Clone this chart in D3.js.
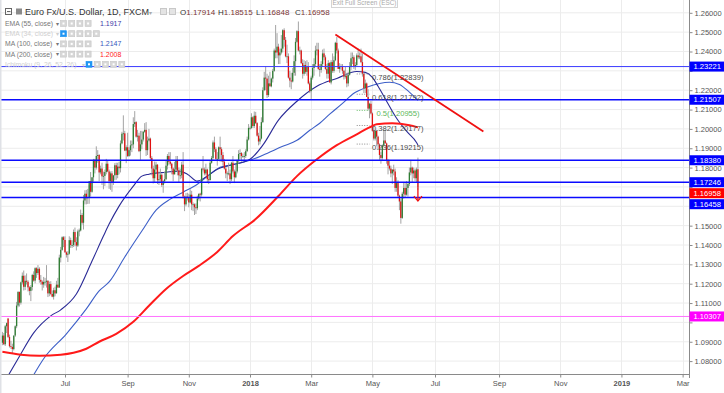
<!DOCTYPE html>
<html><head><meta charset="utf-8">
<script src="https://cdn.jsdelivr.net/npm/d3@7"></script>
<style>
html,body{margin:0;padding:0;background:#fff;}
svg{display:block;font-family:"Liberation Sans",Arial,sans-serif;}
</style></head><body>
<svg id="chart" width="724" height="393"></svg>
<script>
// ---------------- DATA ----------------
const startDate = "2017-05-02"; // first daily bar (weekdays follow)
const ohlcMay2017 = [
[1.0895,1.0951,1.0882,1.0932],[1.0932,1.0945,1.0883,1.0887],[1.0887,1.0987,1.0878,1.0980],[1.0980,1.0999,1.0945,1.0996],
[1.1020,1.1023,1.0919,1.0925],[1.0925,1.0937,1.0870,1.0877],[1.0877,1.0905,1.0863,1.0873],[1.0873,1.0890,1.0838,1.0862],[1.0862,1.0932,1.0855,1.0932],
[1.0932,1.0985,1.0925,1.0980],[1.0980,1.1106,1.0970,1.1087],[1.1087,1.1162,1.1078,1.1157],[1.1157,1.1160,1.1082,1.1102],[1.1102,1.1211,1.1092,1.1207],
[1.1207,1.1258,1.1196,1.1241],[1.1241,1.1268,1.1165,1.1184],[1.1184,1.1243,1.1167,1.1215],[1.1215,1.1253,1.1196,1.1210],[1.1210,1.1218,1.1160,1.1181],
[1.1181,1.1187,1.1140,1.1163],[1.1163,1.1193,1.1110,1.1183],[1.1183,1.1251,1.1165,1.1245]];
const ohlcJun2017 = [
[1.1245,1.1264,1.1210,1.1216],[1.1216,1.1285,1.1202,1.1280],
[1.1280,1.1285,1.1230,1.1255],[1.1255,1.1296,1.1245,1.1277],[1.1277,1.1285,1.1205,1.1220],[1.1220,1.1245,1.1195,1.1210],[1.1210,1.1217,1.1165,1.1196],
[1.1196,1.1235,1.1179,1.1209],[1.1209,1.1230,1.1190,1.1210],[1.1210,1.1296,1.1180,1.1215],[1.1215,1.1218,1.1131,1.1150],[1.1150,1.1211,1.1135,1.1198],
[1.1198,1.1213,1.1140,1.1147],[1.1147,1.1165,1.1130,1.1133],[1.1133,1.1179,1.1118,1.1166],[1.1166,1.1185,1.1135,1.1150],[1.1150,1.1215,1.1150,1.1195],
[1.1195,1.1230,1.1180,1.1180],[1.1180,1.1350,1.1180,1.1335],[1.1335,1.1390,1.1310,1.1375],[1.1375,1.1445,1.1370,1.1440],[1.1440,1.1446,1.1389,1.1426]];
const ohlcJul2017 = [
[1.1426,1.1445,1.1360,1.1362],[1.1362,1.1367,1.1335,1.1350],[1.1350,1.1368,1.1312,1.1355],[1.1355,1.1445,1.1350,1.1425],[1.1425,1.1438,1.1385,1.1400],
[1.1400,1.1425,1.1385,1.1400],[1.1400,1.1480,1.1390,1.1467],[1.1467,1.1490,1.1393,1.1415],[1.1415,1.1440,1.1372,1.1397],[1.1397,1.1480,1.1390,1.1470],
[1.1470,1.1485,1.1445,1.1475],[1.1475,1.1583,1.1470,1.1555],[1.1555,1.1565,1.1505,1.1515],[1.1515,1.1658,1.1480,1.1630],[1.1630,1.1683,1.1610,1.1665],
[1.1665,1.1685,1.1610,1.1642],[1.1642,1.1690,1.1612,1.1647],[1.1647,1.1712,1.1613,1.1730],[1.1730,1.1777,1.1650,1.1675],[1.1675,1.1750,1.1670,1.1750],
[1.1750,1.1845,1.1727,1.1840]];
const ohlcAug2017 = [
[1.1840,1.1845,1.1770,1.1800],[1.1800,1.1910,1.1790,1.1860],[1.1860,1.1890,1.1825,1.1865],[1.1865,1.1870,1.1730,1.1775],
[1.1775,1.1810,1.1765,1.1795],[1.1795,1.1825,1.1710,1.1755],[1.1755,1.1779,1.1688,1.1757],[1.1757,1.1790,1.1705,1.1777],[1.1777,1.1845,1.1765,1.1820],
[1.1820,1.1835,1.1776,1.1780],[1.1780,1.1790,1.1690,1.1730],[1.1730,1.1780,1.1685,1.1770],[1.1770,1.1782,1.1675,1.1725],[1.1725,1.1760,1.1710,1.1760],
[1.1760,1.1823,1.1735,1.1812],[1.1812,1.1825,1.1737,1.1762],[1.1762,1.1825,1.1745,1.1805],[1.1805,1.1830,1.1765,1.1797],[1.1797,1.1940,1.1775,1.1925],
[1.1925,1.1985,1.1920,1.1975],[1.1975,1.2070,1.1940,1.1977],[1.1977,1.1990,1.1885,1.1888],[1.1888,1.1915,1.1823,1.1905]];
const ohlcSep2017 = [
[1.1905,1.1980,1.1855,1.1860],
[1.1860,1.1905,1.1855,1.1890],[1.1890,1.1940,1.1862,1.1915],[1.1915,1.1940,1.1880,1.1920],[1.1920,1.2060,1.1900,1.2025],[1.2025,1.2092,1.2010,1.2035],
[1.2035,1.2040,1.1955,1.1960],[1.1960,1.1995,1.1935,1.1965],[1.1965,1.1980,1.1880,1.1885],[1.1885,1.1990,1.1840,1.1920],[1.1920,1.1990,1.1895,1.1945],
[1.1945,1.1990,1.1935,1.1985],[1.1985,1.2030,1.1980,1.1995],[1.1995,1.2035,1.1860,1.1890],[1.1890,1.1960,1.1865,1.1940],[1.1940,1.2000,1.1935,1.1950],
[1.1950,1.1955,1.1838,1.1850],[1.1850,1.1860,1.1760,1.1795],[1.1795,1.1810,1.1718,1.1745],[1.1745,1.1831,1.1722,1.1790],[1.1790,1.1830,1.1775,1.1815]];
const ohlcOct2017 = [
[1.1815,1.1818,1.1715,1.1735],[1.1735,1.1780,1.1710,1.1740],[1.1740,1.1795,1.1725,1.1763],[1.1763,1.1770,1.1700,1.1710],[1.1710,1.1735,1.1670,1.1730],
[1.1730,1.1780,1.1718,1.1740],[1.1740,1.1835,1.1735,1.1810],[1.1810,1.1870,1.1790,1.1860],[1.1860,1.1880,1.1815,1.1830],[1.1830,1.1880,1.1810,1.1820],
[1.1820,1.1825,1.1765,1.1795],[1.1795,1.1800,1.1730,1.1765],[1.1765,1.1830,1.1765,1.1790],[1.1790,1.1860,1.1780,1.1835],[1.1835,1.1860,1.1760,1.1785],
[1.1785,1.1800,1.1725,1.1760],[1.1760,1.1795,1.1740,1.1760],[1.1760,1.1830,1.1745,1.1815],[1.1815,1.1880,1.1640,1.1650],[1.1650,1.1655,1.1575,1.1610],
[1.1610,1.1668,1.1600,1.1650],[1.1650,1.1670,1.1630,1.1645]];
const ohlcNov2017 = [
[1.1645,1.1665,1.1595,1.1620],[1.1620,1.1688,1.1615,1.1660],[1.1660,1.1680,1.1580,1.1610],
[1.1610,1.1620,1.1575,1.1610],[1.1610,1.1615,1.1555,1.1595],[1.1595,1.1615,1.1560,1.1590],[1.1590,1.1655,1.1580,1.1640],[1.1640,1.1665,1.1630,1.1665],
[1.1665,1.1670,1.1625,1.1660],[1.1660,1.1795,1.1650,1.1795],[1.1795,1.1860,1.1780,1.1790],[1.1790,1.1800,1.1760,1.1770],[1.1770,1.1820,1.1760,1.1790],
[1.1790,1.1795,1.1720,1.1740],[1.1740,1.1760,1.1715,1.1735],[1.1735,1.1835,1.1735,1.1825],[1.1825,1.1860,1.1820,1.1850],[1.1850,1.1940,1.1840,1.1930],
[1.1930,1.1960,1.1880,1.1895],[1.1895,1.1905,1.1840,1.1845],[1.1845,1.1880,1.1810,1.1845],[1.1845,1.1910,1.1835,1.1905]];
const ohlcDec2017 = [
[1.1905,1.1960,1.1830,1.1895],
[1.1895,1.1905,1.1830,1.1865],[1.1865,1.1880,1.1810,1.1830],[1.1830,1.1845,1.1790,1.1795],[1.1795,1.1805,1.1745,1.1770],[1.1770,1.1780,1.1730,1.1770],
[1.1770,1.1825,1.1760,1.1770],[1.1770,1.1790,1.1715,1.1740],[1.1740,1.1830,1.1730,1.1825],[1.1825,1.1860,1.1770,1.1780],[1.1780,1.1790,1.1720,1.1750],
[1.1750,1.1815,1.1745,1.1780],[1.1780,1.1840,1.1770,1.1840],[1.1840,1.1890,1.1820,1.1870],[1.1870,1.1895,1.1845,1.1875],[1.1875,1.1880,1.1830,1.1860],
[1.1860,1.1872,1.1850,1.1860],[1.1860,1.1880,1.1840,1.1860],[1.1860,1.1895,1.1850,1.1885],[1.1885,1.1960,1.1880,1.1945],[1.1945,1.2025,1.1940,1.2005]];
const ohlcJan2018 = [
[1.2005,1.2012,1.1995,1.2005],[1.2005,1.2081,1.2000,1.2060],[1.2060,1.2065,1.2005,1.2015],[1.2015,1.2090,1.2005,1.2068],[1.2068,1.2088,1.2025,1.2030],
[1.2030,1.2035,1.1960,1.1965],[1.1965,1.1980,1.1915,1.1935],[1.1935,1.2015,1.1920,1.1950],[1.1950,1.2060,1.1945,1.2035],[1.2035,1.2215,1.2030,1.2200],
[1.2200,1.2295,1.2195,1.2265],[1.2265,1.2325,1.2200,1.2260],[1.2260,1.2285,1.2160,1.2175],[1.2175,1.2275,1.2165,1.2235],[1.2235,1.2295,1.2220,1.2220],
[1.2220,1.2265,1.2215,1.2260],[1.2260,1.2310,1.2240,1.2300],[1.2300,1.2415,1.2295,1.2405],[1.2405,1.2537,1.2365,1.2395],[1.2395,1.2495,1.2365,1.2425],
[1.2425,1.2440,1.2335,1.2380],[1.2380,1.2415,1.2335,1.2395],[1.2395,1.2485,1.2385,1.2415]];
const ohlcFeb2018 = [
[1.2415,1.2515,1.2395,1.2510],[1.2510,1.2520,1.2425,1.2460],
[1.2460,1.2475,1.2370,1.2375],[1.2375,1.2435,1.2340,1.2375],[1.2375,1.2390,1.2260,1.2265],[1.2265,1.2300,1.2215,1.2250],[1.2250,1.2290,1.2205,1.2245],
[1.2245,1.2315,1.2240,1.2290],[1.2290,1.2380,1.2275,1.2350],[1.2350,1.2470,1.2275,1.2450],[1.2450,1.2510,1.2445,1.2505],[1.2505,1.2555,1.2400,1.2405],
[1.2405,1.2425,1.2385,1.2405],[1.2405,1.2410,1.2335,1.2340],[1.2340,1.2360,1.2260,1.2285],[1.2285,1.2355,1.2275,1.2330],[1.2330,1.2350,1.2285,1.2295],
[1.2295,1.2355,1.2275,1.2320],[1.2320,1.2345,1.2230,1.2235],[1.2235,1.2245,1.2185,1.2195]];
const ohlcMar2018 = [
[1.2195,1.2275,1.2155,1.2265],[1.2265,1.2335,1.2255,1.2315],
[1.2315,1.2365,1.2275,1.2335],[1.2335,1.2430,1.2325,1.2405],[1.2405,1.2445,1.2380,1.2410],[1.2410,1.2445,1.2305,1.2310],[1.2310,1.2335,1.2270,1.2305],
[1.2305,1.2350,1.2290,1.2335],[1.2335,1.2410,1.2320,1.2390],[1.2390,1.2415,1.2355,1.2370],[1.2370,1.2380,1.2305,1.2310],[1.2310,1.2335,1.2260,1.2285],
[1.2285,1.2355,1.2260,1.2340],[1.2340,1.2345,1.2240,1.2240],[1.2240,1.2355,1.2230,1.2345],[1.2345,1.2390,1.2290,1.2300],[1.2300,1.2375,1.2290,1.2355],
[1.2355,1.2450,1.2350,1.2445],[1.2445,1.2475,1.2390,1.2405],[1.2405,1.2415,1.2310,1.2310],[1.2310,1.2340,1.2290,1.2320],[1.2320,1.2335,1.2305,1.2325]];
const ohlcApr2018 = [
[1.2325,1.2335,1.2285,1.2300],[1.2300,1.2305,1.2255,1.2270],[1.2270,1.2320,1.2260,1.2275],[1.2275,1.2290,1.2215,1.2235],[1.2235,1.2295,1.2220,1.2280],
[1.2280,1.2345,1.2275,1.2320],[1.2320,1.2395,1.2305,1.2365],[1.2365,1.2395,1.2335,1.2370],[1.2370,1.2380,1.2310,1.2325],[1.2325,1.2345,1.2305,1.2330],
[1.2330,1.2390,1.2325,1.2380],[1.2380,1.2415,1.2360,1.2370],[1.2370,1.2395,1.2360,1.2375],[1.2375,1.2415,1.2340,1.2345],[1.2345,1.2390,1.2270,1.2285],
[1.2285,1.2290,1.2185,1.2210],[1.2210,1.2255,1.2185,1.2235],[1.2235,1.2240,1.2165,1.2165],[1.2165,1.2205,1.2095,1.2105],[1.2105,1.2135,1.2055,1.2130],
[1.2130,1.2145,1.2075,1.2080]];
const ohlcMay2018 = [
[1.2080,1.2085,1.1985,1.1990],[1.1990,1.2010,1.1940,1.1950],[1.1950,1.1995,1.1940,1.1990],[1.1990,1.1995,1.1910,1.1960],
[1.1960,1.1965,1.1895,1.1920],[1.1920,1.1925,1.1840,1.1865],[1.1865,1.1880,1.1820,1.1850],[1.1850,1.1920,1.1840,1.1915],[1.1915,1.1995,1.1905,1.1940],
[1.1940,1.1995,1.1925,1.1925],[1.1925,1.1930,1.1820,1.1835],[1.1835,1.1845,1.1765,1.1810],[1.1810,1.1840,1.1785,1.1795],[1.1795,1.1810,1.1750,1.1770],
[1.1770,1.1790,1.1715,1.1790],[1.1790,1.1815,1.1760,1.1780],[1.1780,1.1795,1.1675,1.1695],[1.1695,1.1750,1.1675,1.1720],[1.1720,1.1735,1.1645,1.1655],
[1.1655,1.1660,1.1580,1.1625],[1.1625,1.1640,1.1510,1.1540],[1.1540,1.1675,1.1535,1.1665],[1.1665,1.1725,1.1640,1.1695]];
const ohlcJun2018 = [
[1.1695,1.1720,1.1645,1.1660],
[1.1660,1.1730,1.1655,1.1695],[1.1695,1.1720,1.1650,1.1715],[1.1715,1.1800,1.1705,1.1775],[1.1775,1.1840,1.1760,1.1800],[1.1800,1.1805,1.1725,1.1770],
[1.1770,1.1800,1.1745,1.1785],[1.1785,1.1795,1.1730,1.1745],[1.1745,1.1800,1.1725,1.1790],[1.17914,1.18515,1.16848,1.16958]];

// moving averages [date, value]
const ema55 = [["2017-05-08",1.0724],["2017-05-17",1.0812],["2017-06-01",1.0946],["2017-06-19",1.1034],["2017-06-28",1.1065],
["2017-07-13",1.1147],["2017-07-28",1.1317],["2017-08-09",1.1446],["2017-08-15",1.1508],["2017-08-24",1.1601],["2017-09-07",1.1704],
["2017-09-15",1.1756],["2017-09-22",1.1766],["2017-10-10",1.1776],["2017-10-23",1.1782],["2017-10-31",1.1766],["2017-11-09",1.1730],
["2017-11-17",1.1751],["2017-11-29",1.1792],["2017-12-12",1.1812],["2018-01-01",1.1843],["2018-01-12",1.1916],["2018-01-29",1.2045],
["2018-02-15",1.2143],["2018-03-07",1.2220],["2018-03-27",1.2261],["2018-04-16",1.2297],["2018-04-24",1.2292],["2018-05-01",1.2266],
["2018-05-07",1.2220],["2018-05-15",1.2143],["2018-05-24",1.2055],["2018-06-04",1.1988],["2018-06-13",1.1930],["2018-06-14",1.1917]];
const ma100 = [["2017-06-01",1.0729],["2017-06-12",1.0812],["2017-07-04",1.0941],["2017-07-24",1.1070],["2017-08-04",1.1163],
["2017-08-15",1.1209],["2017-08-30",1.1338],["2017-09-15",1.1472],["2017-09-29",1.1580],["2017-10-13",1.1637],["2017-10-26",1.1673],
["2017-11-09",1.1714],["2017-11-22",1.1766],["2017-12-01",1.1802],["2017-12-12",1.1812],["2018-01-01",1.1838],["2018-01-12",1.1864],
["2018-02-01",1.1910],["2018-02-15",1.1941],["2018-02-28",1.1993],["2018-03-09",1.2029],["2018-03-20",1.2076],["2018-04-02",1.2132],
["2018-04-12",1.2184],["2018-04-25",1.2215],["2018-05-08",1.2235],["2018-05-17",1.2241],["2018-05-28",1.2230],["2018-06-06",1.2190],
["2018-06-14",1.2147]];
const ma200 = [["2017-05-02",1.0848],["2017-05-19",1.0833],["2017-06-07",1.0828],["2017-06-28",1.0833],["2017-07-11",1.0843],
["2017-07-24",1.0864],["2017-08-04",1.0900],["2017-08-22",1.0941],["2017-09-07",1.1003],["2017-09-22",1.1086],["2017-10-10",1.1173],
["2017-10-26",1.1240],["2017-11-10",1.1292],["2017-11-29",1.1364],["2017-12-14",1.1446],["2018-01-05",1.1534],["2018-01-29",1.1653],
["2018-02-15",1.1756],["2018-03-07",1.1843],["2018-03-27",1.1916],["2018-04-16",1.1972],["2018-04-27",1.2008],["2018-05-04",1.2024],
["2018-05-21",1.2029],["2018-06-06",1.2019],["2018-06-14",1.2008]];

const priceTicks = [1.08,1.09,1.10,1.11,1.12,1.13,1.14,1.15,1.16,1.17,1.18,1.19,1.20,1.21,1.22,1.23,1.24,1.25,1.26];
const timeTickDates = ["2017-07-03","2017-09-01","2017-11-01","2018-01-01","2018-03-01","2018-05-01","2018-07-02","2018-09-03","2018-11-01","2019-01-01","2019-03-01"];
const timeTickLabels = ["Jul","Sep","Nov","2018","Mar","May","Jul","Sep","Nov","2019","Mar"];
const levelPrices = [1.23221,1.21507,1.18380,1.17246,1.16458];
const pinkLevel = 1.10307;
const lastClose = 1.16958;
const fibRatios = ["0.786","0.618","0.5","0.382","0.236"];
const fibPrices = [1.22839,1.21792,1.20955,1.20177,1.19215];
const fibDates = ["2018-04-16","2018-04-27"];
const trendDates = ["2018-03-26","2018-08-17"];
const trendPrices = [1.2488,1.1987];
const arrowDate = "2018-06-14";
const arrowPrices = [1.1696,1.1627];
const legendRows = [
 {name:"EMA (55, close)", value:"1.1917", on:true},
 {name:"EMA (34, close)", value:"", on:false},
 {name:"MA (100, close)", value:"1.2147", on:true},
 {name:"MA (200, close)", value:"1.2008", on:true},
 {name:"Ichimoku (9, 26, 52, 26)", value:"", on:false}];
const ohlcLabels = ["O","H","L","C"];

// ---------------- CHART ----------------
const svg = d3.select("#chart");
const W = 724, H = 393, plotR = 689, plotB = 374;
const ohlc = [].concat(ohlcMay2017,ohlcJun2017,ohlcJul2017,ohlcAug2017,ohlcSep2017,ohlcOct2017,ohlcNov2017,ohlcDec2017,
  ohlcJan2018,ohlcFeb2018,ohlcMar2018,ohlcApr2018,ohlcMay2018,ohlcJun2018);

function parse(s){ return new Date(s + "T12:00:00"); }
function barIndex(s){
  const t = parse(s), c = parse(startDate); let n = 0;
  while (c < t) { const wd = c.getDay(); if (wd !== 0 && wd !== 6) n++; c.setDate(c.getDate()+1); }
  return n;
}
const x = d3.scaleLinear().domain([barIndex("2017-07-03"), barIndex("2018-01-01")]).range([65, 250]);
const y = d3.scaleLinear().domain([1.08, 1.26]).range([361.1, 12.8]);

svg.append("rect").attr("width",W).attr("height",H).attr("fill","#fff");
svg.append("defs").append("clipPath").attr("id","plotclip").append("rect")
  .attr("x",0).attr("y",0).attr("width",plotR).attr("height",plotB);

// grid
const grid = svg.append("g");
priceTicks.forEach(p => grid.append("line").attr("x1",0).attr("x2",plotR).attr("y1",y(p)).attr("y2",y(p))
  .attr("stroke","#ececec").attr("stroke-width",1));
timeTickDates.forEach(d => { const xx = Math.round(x(barIndex(d)))+0.5;
  grid.append("line").attr("x1",xx).attr("x2",xx).attr("y1",0).attr("y2",plotB).attr("stroke","#ececec"); });

const plot = svg.append("g").attr("clip-path","url(#plotclip)");

// moving averages
const line = d3.line().x(d => x(barIndex(d[0]))).y(d => y(d[1])).curve(d3.curveMonotoneX);
plot.append("path").attr("d", line(ma100)).attr("fill","none").attr("stroke","#3d5fc8").attr("stroke-width",1.1);
plot.append("path").attr("d", line(ema55)).attr("fill","none").attr("stroke","#2a2a96").attr("stroke-width",1.1);

// candles
const cg = plot.append("g");
ohlc.forEach((r,i) => {
  const cx = x(i), up = r[3] >= r[0];
  cg.append("line").attr("x1",cx).attr("x2",cx).attr("y1",y(r[1])).attr("y2",y(r[2]))
    .attr("stroke","#9a9a9a").attr("stroke-width",0.9);
  const top = y(Math.max(r[0],r[3])), bot = y(Math.min(r[0],r[3]));
  cg.append("rect").attr("x",cx-0.65).attr("width",1.3).attr("y",top).attr("height",Math.max(0.8,bot-top))
    .attr("fill", up ? "#2e7d32" : "#e01010");
});

plot.append("path").attr("d", line(ma200)).attr("fill","none").attr("stroke","#ff1a1a").attr("stroke-width",2);

// horizontal levels
levelPrices.forEach((p,i) => plot.append("line").attr("x1",0).attr("x2",plotR).attr("y1",y(p)).attr("y2",y(p))
  .attr("stroke", i===0 ? "#3b3bff" : "#0a0aff").attr("stroke-width", i===0 ? 1 : 1.6));
plot.append("line").attr("x1",0).attr("x2",plotR).attr("y1",y(pinkLevel)).attr("y2",y(pinkLevel))
  .attr("stroke","#ff70ff").attr("stroke-width",1);

// trend line
plot.append("line").attr("x1",x(barIndex(trendDates[0]))).attr("y1",y(trendPrices[0]))
  .attr("x2",x(barIndex(trendDates[1]))).attr("y2",y(trendPrices[1]))
  .attr("stroke","#f01010").attr("stroke-width",1.8);

// fib levels
const fx0 = x(barIndex(fibDates[0])), fx1 = x(barIndex(fibDates[1]));
fibPrices.forEach((p,i) => {
  const col = fibRatios[i]==="0.5" ? "#6cc06c" : "#8a8a8a";
  plot.append("line").attr("x1",fx0).attr("x2",fx1).attr("y1",y(p)).attr("y2",y(p))
    .attr("stroke",col).attr("stroke-width",1).attr("stroke-dasharray","1,1.5");
  plot.append("text").attr("x", fx1 + (fibRatios[i]==="0.5" ? 7 : 2.5)).attr("y", y(p)+5.6)
    .attr("font-size",7.6).attr("fill", fibRatios[i]==="0.5" ? "#5cb85c" : "#4a4a4a")
    .text(fibRatios[i] + "(" + p.toFixed(5) + ")");
});

// arrow
const ax = x(barIndex(arrowDate));
const ay0 = y(arrowPrices[0]), ay1 = y(arrowPrices[1]);
plot.append("line").attr("x1",ax).attr("x2",ax).attr("y1",ay0).attr("y2",ay1).attr("stroke","#f01010").attr("stroke-width",1.3);
plot.append("path").attr("d",`M${ax-4},${ay1-5}L${ax},${ay1}L${ax+4},${ay1-5}`).attr("fill","none")
  .attr("stroke","#f01010").attr("stroke-width",1.3);

// axes
svg.append("line").attr("x1",plotR+0.5).attr("x2",plotR+0.5).attr("y1",0).attr("y2",plotB+4).attr("stroke","#8a8a8a");
svg.append("line").attr("x1",0).attr("x2",plotR+0.5).attr("y1",plotB+0.5).attr("y2",plotB+0.5).attr("stroke","#8a8a8a");
svg.append("rect").attr("x",0).attr("y",0).attr("width",1.5).attr("height",H).attr("fill","#dfe1e6");

// price label boxes (pushed apart when overlapping)
const boxes = levelPrices.map(p => ({p, c:"#0000ff"}))
  .concat([{p:lastClose, c:"#ff0000"}, {p:pinkLevel, c:"#ff00ff"}])
  .map(b => ({...b, yy: y(b.p)})).sort((a,b) => a.yy - b.yy);
for (let i = 1; i < boxes.length; i++) if (boxes[i].yy - boxes[i-1].yy < 11) boxes[i].yy = boxes[i-1].yy + 11;

// price axis: tick labels that sit under a label box are left out
const visibleTicks = priceTicks.filter(p => boxes.every(b => Math.abs(y(p) - b.yy) > 6.8));
const yAxis = d3.axisRight(y).tickValues(priceTicks).tickSize(3).tickPadding(2)
  .tickFormat(d => visibleTicks.includes(d) ? d.toFixed(5) : "");
const ya = svg.append("g").attr("transform",`translate(${plotR+0.5},0)`).call(yAxis);
ya.select(".domain").remove();
ya.selectAll("line").attr("stroke","#8a8a8a");
ya.selectAll("text").attr("font-size",7.5).attr("fill","#555").attr("font-family","Liberation Sans, Arial, sans-serif");

const xAxis = d3.axisBottom(x).tickValues(timeTickDates.map(barIndex)).tickSize(3).tickPadding(3)
  .tickFormat((d,i) => timeTickLabels[i]);
const xa = svg.append("g").attr("transform",`translate(0,${plotB+0.5})`).call(xAxis);
xa.select(".domain").remove();
xa.selectAll("line").attr("stroke","#8a8a8a");
xa.selectAll("text").attr("font-size",7.5).attr("fill","#555").attr("font-family","Liberation Sans, Arial, sans-serif")
  .attr("font-weight",(d,i) => /^\d{4}$/.test(timeTickLabels[i]) ? "bold" : "normal");

boxes.forEach(b => {
  svg.append("rect").attr("x",plotR+0.5).attr("y",b.yy-5).attr("width",W-plotR).attr("height",10).attr("fill",b.c);
  svg.append("text").attr("x",plotR+4.5).attr("y",b.yy+2.7).attr("font-size",7.6).attr("fill","#fff").text(b.p.toFixed(5));
});

// legend
const lg = svg.append("g");
lg.append("rect").attr("x",5.5).attr("y",8.5).attr("width",6).attr("height",6).attr("fill","none").attr("stroke","#666");
lg.append("line").attr("x1",7).attr("x2",10.5).attr("y1",11.5).attr("y2",11.5).attr("stroke","#666");
lg.append("rect").attr("x",16).attr("y",8.5).attr("width",6).attr("height",6).attr("fill","#8a8a8a");
lg.append("text").attr("x",25).attr("y",15.3).attr("font-size",9).attr("fill","#333").text("Euro Fx/U.S. Dollar, 1D, FXCM");
lg.append("text").attr("x",149).attr("y",14.5).attr("font-size",6).attr("fill","#aaa").text("▾");
[160,169].forEach(ix => lg.append("rect").attr("x",ix+0.5).attr("y",8.5).attr("width",6).attr("height",6)
  .attr("fill","#e4e4e4").attr("stroke","#c8c8c8"));
const lastBar = ohlc[ohlc.length-1];
[180,218,256,295].forEach((ix,i) => {
  const t = lg.append("text").attr("x",ix).attr("y",15.3).attr("font-size",8);
  t.append("tspan").attr("fill","#333").text(ohlcLabels[i]);
  t.append("tspan").attr("fill","#7a3636").text(lastBar[i].toFixed(5));
});
const valColors = ["#3b38a8", null, "#3656bd", "#ff1a1a", null];
legendRows.forEach((r,i) => {
  const cy = 23.5 + i*10.2;
  const col = r.on ? "#777" : "#cfcfcf";
  lg.append("text").attr("x",5).attr("y",cy+2.4).attr("font-size",6.8).attr("fill",col).text(r.name);
  const wName = r.name === "Ichimoku (9, 26, 52, 26)" ? 76 : 50;
  lg.append("text").attr("x",5+wName+1).attr("y",cy+2.2).attr("font-size",5.5).attr("fill",col).text("▾");
  let ix = r.name.startsWith("Ichimoku") ? 86 : 60.5;
  const n = r.on ? 4 : 5;
  for (let k = 0; k < n; k++) {
    const blue = !r.on && k === 0;
    lg.append("rect").attr("x",ix).attr("y",cy-3).attr("width",6).attr("height",6)
      .attr("fill", blue ? "#2196f3" : "#d7d7d7").attr("stroke", blue ? "#2196f3" : "#c6c6c6").attr("stroke-width",0.6);
    lg.append("rect").attr("x",ix+2).attr("y",cy-1).attr("width",2).attr("height",2).attr("fill","#fff");
    ix += 8.2;
  }
  if (r.value) lg.append("text").attr("x",100).attr("y",cy+2.4).attr("font-size",7).attr("fill",valColors[i]).text(r.value);
});

// exit full screen tooltip
svg.append("rect").attr("x",331.5).attr("y",-3).attr("width",66).attr("height",10.5).attr("fill","#fff").attr("stroke","#d4d4d4");
svg.append("text").attr("x",364.5).attr("y",5).attr("text-anchor","middle").attr("font-size",6.4).attr("fill","#aaa").text("Exit Full Screen (ESC)");
</script>
</body></html>
